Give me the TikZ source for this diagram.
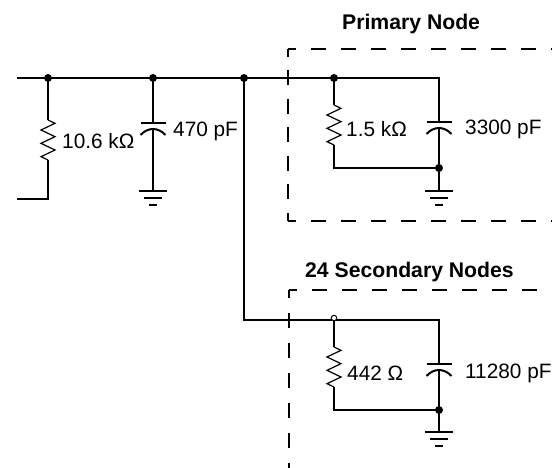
\documentclass[tikz,border=0pt]{standalone}
\usepackage{fontspec}
\setmainfont{Liberation Sans}
\begin{document}
\begin{tikzpicture}[x=1pt,y=-1pt,
  wire/.style={line width=2pt},
  zig/.style={line width=1.2pt,line join=miter},
  box/.style={line width=2pt,dash pattern=on 15pt off 15pt,dash phase=7pt},
  lbl/.style={anchor=base west,inner sep=0pt,font=\fontsize{20.8}{24}\selectfont},
  ttl/.style={anchor=base west,inner sep=0pt,font=\fontsize{21.2}{24}\selectfont\bfseries},
  dot/.style={circle,fill=black,inner sep=0pt,minimum size=8pt},
  odot/.style={circle,draw=black,fill=white,line width=1pt,inner sep=0pt,minimum size=5.5pt},
  resistor/.pic={\draw[zig] (0,0) -- ++(7,3.33) -- ++(-14,6.67) -- ++(14,6.67) -- ++(-14,6.67) -- ++(14,6.67) -- ++(-14,6.67) -- ++(7,3.33);},
  capacitor/.pic={\draw[wire] (-12.5,0) -- (12.5,0);
                  \draw[wire] (-12.5,12) .. controls (-5,4) and (5,4) .. (12.5,12);},
  earth/.pic={\draw[wire] (-14,0) -- (14,0); \draw[wire] (-9,7) -- (9,7); \draw[wire] (-4,14) -- (4,14);}
]
\useasboundingbox (0,0) rectangle (552,468);

% coordinates
\coordinate (a0) at (17,78);
\coordinate (j1) at (48,78);
\coordinate (j2) at (153,78);
\coordinate (j3) at (244,78);
\coordinate (j4) at (334,78);
\coordinate (c4) at (439,78);
\coordinate (r1t) at (48,120);
\coordinate (r1b) at (48,160);
\coordinate (b1) at (48,199);
\coordinate (b0) at (17,199);
\coordinate (c1t) at (153,123);
\coordinate (c1b) at (153,129);
\coordinate (g1) at (153,191);
\coordinate (r2t) at (334,105);
\coordinate (r2b) at (334,145);
\coordinate (p3) at (334,168);
\coordinate (p4) at (439,168);
\coordinate (c2t) at (439,122);
\coordinate (c2b) at (439,128);
\coordinate (g2) at (439,191);
\coordinate (k) at (244,320);
\coordinate (s1) at (334,320);
\coordinate (s2) at (439,320);
\coordinate (r3t) at (334,347);
\coordinate (r3b) at (334,387);
\coordinate (q3) at (334,410);
\coordinate (q4) at (439,410);
\coordinate (c3t) at (439,364);
\coordinate (c3b) at (439,370);
\coordinate (g3) at (439,432);

% dashed boxes
\coordinate (pb1) at (288,49);
\coordinate (pb2) at (288,221);
\coordinate (pb3) at (560,49);
\coordinate (pb4) at (560,221);
\draw[box] (pb1) -- (pb3);
\draw[box] (pb2) -- (pb4);
\draw[box,dash pattern=on 15pt off 13.5pt] (pb1) -- (pb2);
\coordinate (sb1) at (289,290);
\coordinate (sb2) at (560,290);
\coordinate (sb3) at (289,475);
\draw[box] (sb1) -- (sb2);
\draw[box] (sb1) -- (sb3);

% wires
\draw[wire] (a0) -- (c4) -- (c2t);
\draw[wire] (j1) -- (r1t);
\draw[wire] (r1b) -- (b1) -- (b0);
\draw[wire] (j2) -- (c1t);
\draw[wire] (c1b) -- (g1);
\draw[wire] (j4) -- (r2t);
\draw[wire] (r2b) -- (p3) -- (p4);
\draw[wire] (c2b) -- (g2);
\draw[wire] (j3) -- (k) -- (s2) -- (c3t);
\draw[wire] (s1) -- (r3t);
\draw[wire] (r3b) -- (q3) -- (q4);
\draw[wire] (c3b) -- (g3);

% components
\pic at (r1t) {resistor};
\pic at (r2t) {resistor};
\pic at (r3t) {resistor};
\pic at (c1t) {capacitor};
\pic at (c2t) {capacitor};
\pic at (c3t) {capacitor};
\pic at (g1) {earth};
\pic at (g2) {earth};
\pic at (g3) {earth};

% junction dots
\node[dot] (d1) at (j1) {};
\node[dot] (d2) at (j2) {};
\node[dot] (d3) at (j3) {};
\node[dot] (d4) at (j4) {};
\node[dot] (d5) at (p4) {};
\node[dot] (d6) at (q4) {};
\node[odot] (o1) at (334,318) {};

% labels
\node[lbl] (t1) at (62,149) {10.6 kΩ};
\node[lbl] (t2) at (173,137) {470 pF};
\node[lbl] (t3) at (346,137) {1.5 kΩ};
\node[lbl] (t4) at (465,135) {3300 pF};
\node[lbl] (t5) at (347,380) {442 Ω};
\node[lbl] (t6) at (465,378) {11280 pF};
\node[ttl] (t7) at (342,30) {Primary Node};
\node[ttl] (t8) at (305,277) {24 Secondary Nodes};
\end{tikzpicture}
\end{document}
